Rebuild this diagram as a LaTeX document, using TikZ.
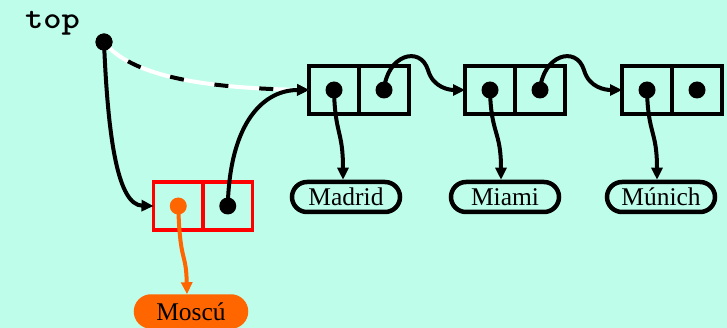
\documentclass[tikz,border=0pt]{standalone}
\usepackage{fontspec}
\setmainfont{Liberation Serif}
\usetikzlibrary{arrows.meta,shapes.misc}
\definecolor{bg}{RGB}{191,253,235}
\definecolor{orng}{RGB}{255,102,0}
\begin{document}
\begin{tikzpicture}[x=1pt,y=-1pt,
 cell/.style={draw,line width=4.5pt,minimum width=50pt,minimum height=48pt,inner sep=0pt,outer sep=0pt},
 rcell/.style={cell,draw=red,line width=3.8pt,minimum width=49.5pt,minimum height=48pt},
 dot/.style={circle,fill=black,minimum size=17pt,inner sep=0pt,outer sep=0pt},
 odot/.style={dot,fill=orng},
 lbl/.style={rounded rectangle,draw,line width=4.5pt,minimum width=108pt,minimum height=30pt,inner sep=0pt,font=\fontsize{25.5}{25.5}\selectfont},
 conn/.style={line width=4pt,-{Triangle[length=12pt,width=11pt]}},
]
\useasboundingbox[fill=bg] (0,0) rectangle (727,328);

% top
\node[anchor=base west,inner sep=0pt,font=\ttfamily\bfseries\fontsize{31}{31}\selectfont] (toplbl) at (25,28.5) {\scalebox{1.12}[1]{top}};
\node[dot] (tdot) at (104,42) {};

% list cells
\node[cell] (c1a) at (334,90) {};
\node[cell] (c1b) at (384,90) {};
\node[cell] (c2a) at (490,90) {};
\node[cell] (c2b) at (540,90) {};
\node[cell] (c3a) at (647,90) {};
\node[cell] (c3b) at (697,90) {};
% red cells
\node[rcell] (r1) at (178.25,206) {};
\node[rcell] (r2) at (227.75,206) {};

% labels
\node[lbl] (madrid) at (346,197) {Madrid};
\node[lbl] (miami) at (505,197) {Miami};
\node[lbl] (munich) at (661,197) {Múnich};
\node[lbl,fill=orng,draw=orng,minimum width=110pt] (moscu) at (191,311.5) {Moscú};

% connectors
\draw[conn] (tdot.center) .. controls (108,140) and (118,205) .. (r1.west);
\draw[conn,white] (tdot.center) .. controls (130,75) and (200,88) .. (c1a.west);
\draw[conn,dash pattern=on 14pt off 31pt,dash phase=14pt] (tdot.center) .. controls (130,75) and (200,88) .. (c1a.west);
\draw[conn] (r2.center) .. controls (230,120) and (265,90) .. (c1a.west);
\draw[conn] (c1b.center) .. controls (387,55) and (420,45) .. (428,70) .. controls (433,88) and (450,90) .. (c2a.west);
\draw[conn] (c2b.center) .. controls (543,55) and (576,45) .. (584,70) .. controls (589,88) and (606,90) .. (c3a.west);
\draw[conn] (c1a.center) .. controls (335,135) and (343,130) .. ([xshift=-3pt]madrid.north);
\draw[conn] (c2a.center) .. controls (491,135) and (501,130) .. ([xshift=-4pt]miami.north);
\draw[conn] (c3a.center) .. controls (648,135) and (657,130) .. ([xshift=-4pt]munich.north);
\draw[conn,orng] (r1.center) .. controls (180,265) and (186,250) .. ([xshift=-4pt]moscu.north);

% dots
\node[dot] at (tdot) {};
\node[dot] (d1a) at (c1a) {};
\node[dot] (d1b) at (c1b) {};
\node[dot] (d2a) at (c2a) {};
\node[dot] (d2b) at (c2b) {};
\node[dot] (d3a) at (c3a) {};
\node[dot] (d3b) at (c3b) {};
\node[odot] (dr1) at (r1) {};
\node[dot] (dr2) at (r2) {};
\end{tikzpicture}
\end{document}
